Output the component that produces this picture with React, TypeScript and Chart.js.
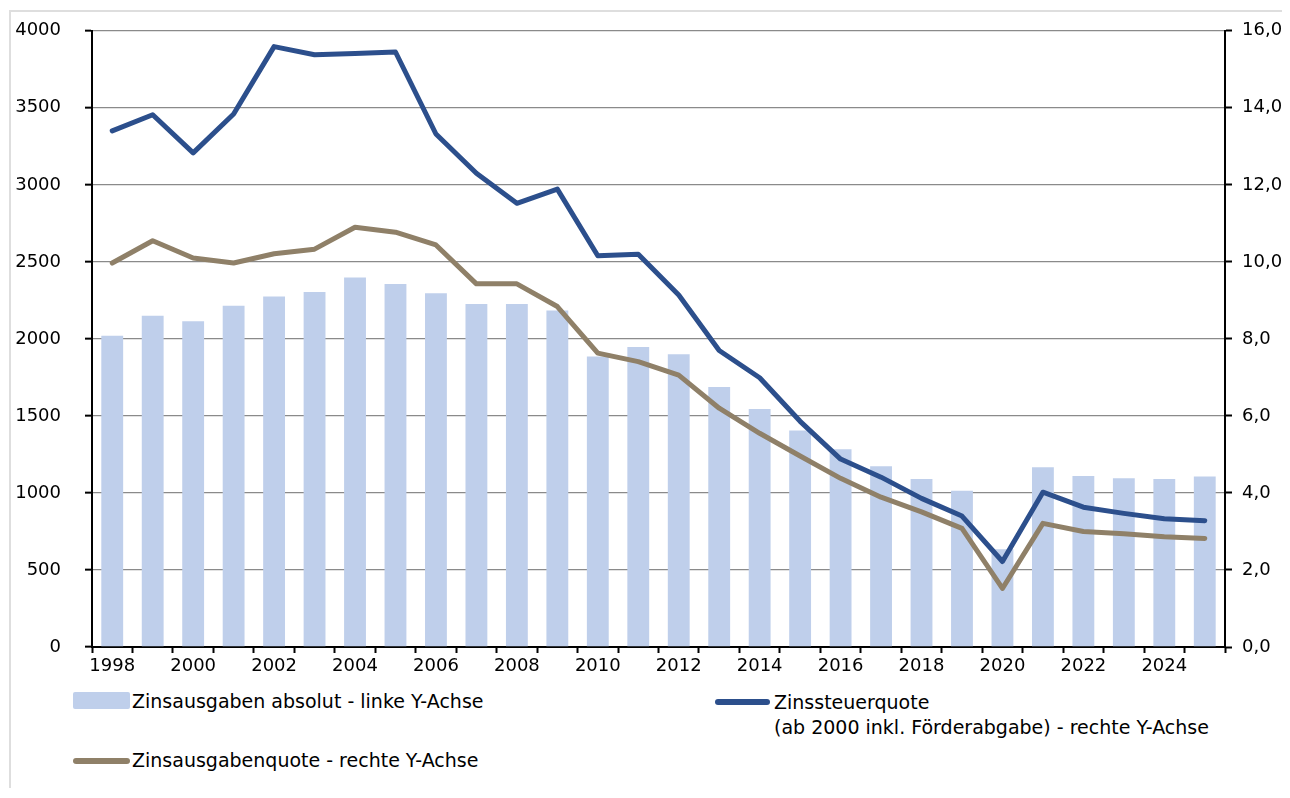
import React, { useEffect, useRef } from "react";
import { Chart, registerables } from "chart.js";

Chart.register(...registerables);

const years: string[] = [
  "1998", "1999", "2000", "2001", "2002", "2003", "2004", "2005", "2006", "2007",
  "2008", "2009", "2010", "2011", "2012", "2013", "2014", "2015", "2016", "2017",
  "2018", "2019", "2020", "2021", "2022", "2023", "2024", "2025",
];

// Zinsausgaben absolut (linke Y-Achse)
const zinsausgabenAbsolut: number[] = [
  2020, 2150, 2115, 2215, 2275, 2305, 2398, 2357, 2297, 2227,
  2227, 2184, 1885, 1948, 1901, 1688, 1545, 1405, 1284, 1173,
  1091, 1015, 634, 1167, 1110, 1095, 1091, 1106,
];

// Zinssteuerquote (rechte Y-Achse)
const zinssteuerquote: number[] = [
  13.4, 13.82, 12.83, 13.84, 15.59, 15.38, 15.41, 15.45, 13.32, 12.3,
  11.52, 11.89, 10.16, 10.2, 9.14, 7.7, 6.99, 5.86, 4.88, 4.41,
  3.86, 3.4, 2.22, 4.02, 3.63, 3.47, 3.33, 3.28,
];

// Zinsausgabenquote (rechte Y-Achse)
const zinsausgabenquote: number[] = [
  9.97, 10.55, 10.1, 9.97, 10.21, 10.33, 10.9, 10.77, 10.44, 9.43,
  9.43, 8.84, 7.63, 7.41, 7.06, 6.2, 5.55, 4.96, 4.38, 3.89,
  3.51, 3.08, 1.52, 3.21, 3.0, 2.94, 2.86, 2.82,
];

const leftTicks = { min: 0, max: 4000, step: 500 };
const rightTicks = { min: 0, max: 16, step: 2 };

const labelBar = "Zinsausgaben absolut - linke Y-Achse";
const labelBlue1 = "Zinssteuerquote";
const labelBlue2 = "(ab 2000 inkl. Förderabgabe) - rechte Y-Achse";
const labelBrown = "Zinsausgabenquote - rechte Y-Achse";

const BAR = "#bfcfeb";
const BLUE = "#2c4f8c";
const BROWN = "#8f8068";
const FONT = "'DejaVu Sans', sans-serif";
const FS = 19;
const TICK_FS = 18;

const W = 1282;
const H = 692;
const CANVAS_TOP = -12;

export default function App() {
  const ref = useRef<HTMLCanvasElement | null>(null);

  useEffect(() => {
    document.documentElement.style.overflow = "hidden";
    document.body.style.overflow = "hidden";
    if (!ref.current) return;
    const chart = new Chart(ref.current, {
      type: "bar",
      data: {
        labels: years,
        datasets: [
          {
            type: "line",
            label: labelBlue1,
            data: zinssteuerquote,
            yAxisID: "y2",
            borderColor: BLUE,
            backgroundColor: BLUE,
            borderWidth: 5,
            pointRadius: 0,
            tension: 0,
            borderCapStyle: "round",
            borderJoinStyle: "round",
            order: 0,
          },
          {
            type: "line",
            label: labelBrown,
            data: zinsausgabenquote,
            yAxisID: "y2",
            borderColor: BROWN,
            backgroundColor: BROWN,
            borderWidth: 5,
            pointRadius: 0,
            tension: 0,
            borderCapStyle: "round",
            borderJoinStyle: "round",
            order: 1,
          },
          {
            type: "bar",
            label: labelBar,
            data: zinsausgabenAbsolut,
            yAxisID: "y",
            backgroundColor: BAR,
            borderWidth: 0,
            barPercentage: 0.54,
            categoryPercentage: 1,
            order: 2,
          },
        ],
      },
      options: {
        responsive: false,
        animation: false,
        devicePixelRatio: 1,
        layout: { padding: { left: 0, right: 0, top: 0, bottom: 0 } },
        plugins: {
          legend: { display: false },
          tooltip: { enabled: false },
        },
        scales: {
          x: {
            offset: true,
            grid: {
              offset: true,
              drawOnChartArea: false,
              drawTicks: true,
              tickLength: 6,
              tickColor: "#000",
              tickWidth: 2,
            },
            border: { display: true, color: "#000", width: 2 },
            ticks: {
              autoSkip: false,
              maxRotation: 0,
              padding: 3,
              color: "#000",
              font: { family: FONT, size: TICK_FS },
              callback: (_v: any, i: number) => (i % 2 === 0 ? years[i] : ""),
            },
            afterFit: (s: any) => {
              s.height = 41;
            },
          },
          y: {
            position: "left",
            min: leftTicks.min,
            max: leftTicks.max,
            grid: {
              color: "#8a8a8a",
              lineWidth: 1.3,
              tickColor: "#000",
              tickLength: 7,
              tickWidth: 2,
            },
            border: { display: true, color: "#000", width: 2 },
            ticks: {
              stepSize: leftTicks.step,
              padding: 24,
              color: "#000",
              font: { family: FONT, size: TICK_FS },
              callback: (v: any) => String(v),
            },
            afterFit: (s: any) => {
              s.width = 84;
            },
          },
          y2: {
            position: "right",
            min: rightTicks.min,
            max: rightTicks.max,
            grid: {
              drawOnChartArea: false,
              tickColor: "#000",
              tickLength: 7,
              tickWidth: 2,
            },
            border: { display: true, color: "#000", width: 2 },
            ticks: {
              stepSize: rightTicks.step,
              padding: 10,
              color: "#000",
              font: { family: FONT, size: TICK_FS },
              callback: (v: any) => Number(v).toFixed(1).replace(".", ","),
            },
            afterFit: (s: any) => {
              s.width = W - 1217;
            },
          },
        },
      },
    });
    return () => chart.destroy();
  }, []);

  const textStyle: React.CSSProperties = {
    position: "absolute",
    fontFamily: FONT,
    fontSize: FS,
    color: "#000",
    whiteSpace: "nowrap",
    lineHeight: "24px",
  };

  return (
    <div style={{ position: "relative", width: W, height: 780, fontFamily: FONT }}>
      <div
        style={{
          position: "absolute",
          left: 1,
          top: 2,
          right: 0,
          bottom: 0,
          borderLeft: "2px solid #dedede",
          borderTop: "2px solid #dedede",
        }}
      />
      <canvas
        ref={ref}
        width={W}
        height={H}
        style={{ position: "absolute", left: 0, top: CANVAS_TOP, width: W, height: H, display: "block" }}
      />
      {/* Legend */}
      <div style={{ position: "absolute", left: 65, top: 684, width: 57, height: 17, background: BAR, borderRadius: 2 }} />
      <div style={{ ...textStyle, left: 124, top: 681 }}>{labelBar}</div>

      <div style={{ position: "absolute", left: 707, top: 691, width: 55, height: 6, background: BLUE, borderRadius: 3 }} />
      <div style={{ ...textStyle, left: 766, top: 682 }}>{labelBlue1}</div>
      <div style={{ ...textStyle, left: 766, top: 707 }}>{labelBlue2}</div>

      <div style={{ position: "absolute", left: 65, top: 750, width: 57, height: 6, background: BROWN, borderRadius: 3 }} />
      <div style={{ ...textStyle, left: 124, top: 740 }}>{labelBrown}</div>
    </div>
  );
}
